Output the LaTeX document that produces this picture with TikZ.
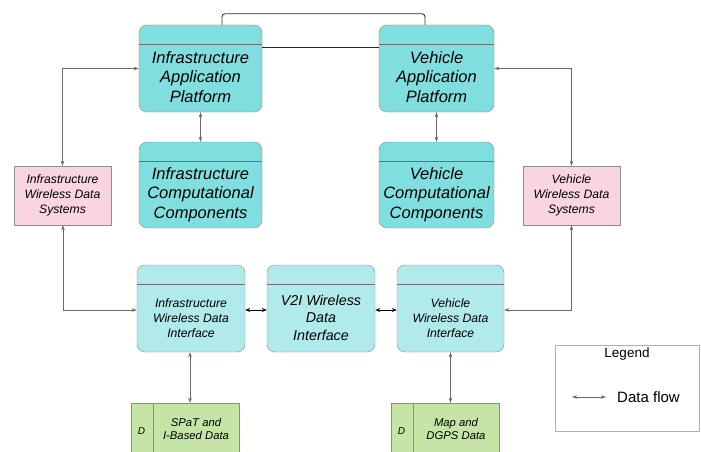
\documentclass[tikz,border=0pt]{standalone}
\usepackage{fontspec}
\setmainfont{Liberation Sans}
\usetikzlibrary{arrows.meta, positioning, calc}

\definecolor{appcyan}{RGB}{128,223,222}
\definecolor{ifcyan}{RGB}{176,234,234}
\definecolor{syspink}{RGB}{249,213,223}
\definecolor{storegreen}{RGB}{197,229,166}
\definecolor{edgegray}{RGB}{140,140,140}
\definecolor{hdrgray}{RGB}{110,110,110}
\definecolor{flowgray}{RGB}{105,105,105}

\begin{document}
\begin{tikzpicture}[x=1pt, y=-1pt,
    appbox/.style={draw=edgegray, fill=appcyan, rounded corners=8pt, minimum width=123pt, minimum height=87pt,
        path picture={\draw[hdrgray, line width=0.7pt] ([yshift=-19pt]path picture bounding box.north west) -- ([yshift=-19pt]path picture bounding box.north east);}},
    ifbox/.style={appbox, fill=ifcyan, minimum width=108pt},
    sysbox/.style={draw=edgegray, fill=syspink, minimum width=97pt, minimum height=59pt},
    storebox/.style={draw=edgegray, fill=storegreen, minimum width=108pt, minimum height=57pt,
        path picture={\draw[edgegray] ([xshift=22pt]path picture bounding box.north west) -- ([xshift=22pt]path picture bounding box.south west);}},
    bigtxt/.style={align=center, font=\fontsize{16.5}{19.5}\selectfont\itshape},
    smalltxt/.style={align=center, font=\fontsize{12.2}{15}\selectfont\itshape},
    flow/.style={{Stealth[length=5pt,width=3.5pt]}-{Stealth[length=5pt,width=3.5pt]}, flowgray, line width=0.9pt},
    link/.style={{Stealth[length=5pt,width=4pt]}-{Stealth[length=5pt,width=4pt]}, black, line width=1pt}
]
    \useasboundingbox (0,0) rectangle (701,452);

    % Platforms
    \node[appbox, minimum width=115pt] (vap) at (436.5,68.5) {};
    \node[appbox] (iap) at (200.5,68.5) {};
    \node[bigtxt] (iaptxt) at ($(iap.center)+(0,8.5)$) {Infrastructure\\Application\\Platform};
    \node[bigtxt] (vaptxt) at ($(vap.center)+(0,8.5)$) {Vehicle\\Application\\Platform};

    % Computational components
    \node[appbox, minimum height=86pt] (icc) at (200.5,185) {};
    \node[appbox, minimum width=115pt, minimum height=86pt] (vcc) at (436.5,185) {};
    \node[bigtxt] (icctxt) at ($(icc.center)+(0,9.5)$) {Infrastructure\\Computational\\Components};
    \node[bigtxt] (vcctxt) at ($(vcc.center)+(0,9.5)$) {Vehicle\\Computational\\Components};

    % Wireless data systems
    \node[sysbox, smalltxt] (iws) at (62.5,195.5) {Infrastructure\\Wireless Data\\Systems};
    \node[sysbox, smalltxt] (vws) at (571.5,195.5) {Vehicle\\Wireless Data\\Systems};

    % Interfaces
    \node[ifbox] (iwi) at (191,308.5) {};
    \node[ifbox] (v2i) at (321,308.5) {};
    \node[ifbox, minimum width=107pt] (vwi) at (450.5,308.5) {};
    \node[smalltxt] (iwitxt) at ($(iwi.center)+(0,9.5)$) {Infrastructure\\Wireless Data\\Interface};
    \node[bigtxt, font=\fontsize{14.3}{17.5}\selectfont\itshape] (v2itxt) at ($(v2i.center)+(0,9)$) {V2I Wireless\\Data\\Interface};
    \node[smalltxt] (vwitxt) at ($(vwi.center)+(0,9.5)$) {Vehicle\\Wireless Data\\Interface};

    % Data stores
    \node[storebox] (sbd) at (185,431.5) {};
    \node[storebox] (mdd) at (445,431.5) {};
    \node[font=\fontsize{10}{12}\selectfont\itshape] (sbdd) at (141.5,431) {D};
    \node[font=\fontsize{10}{12}\selectfont\itshape] (mddd) at (401.5,431) {D};
    \node[smalltxt, font=\fontsize{11.3}{13.5}\selectfont\itshape] (sbdtxt) at (196,429) {SPaT and\\I-Based Data};
    \node[smalltxt, font=\fontsize{11.3}{13.5}\selectfont\itshape] (mddtxt) at (456,429) {Map and\\DGPS Data};

    % Platform links
    \draw[black!80, line width=0.9pt, rounded corners=3pt] ($(iap.north)+(21.5,0)$) -- ++(0,-11) -| ($(vap.north)+(-11.5,0)$);
    \draw[black!85, line width=0.9pt] ($(iap.north east)+(0,23)$) -- ($(vap.north west)+(0,23)$);

    % Data flows
    \draw[flow] (iap.south) -- (icc.north);
    \draw[flow] (vap.south) -- (vcc.north);
    \draw[flow] (iws.north) |- (iap.west);
    \draw[flow] (vws.north) |- (vap.east);
    \draw[flow] ([xshift=0.5pt]iws.south) |- ([yshift=-1.5pt]iwi.west);
    \draw[flow] (vws.south) |- ([yshift=-1.5pt]vwi.east);
    \draw[link] ([yshift=-1.5pt]iwi.east) -- ([yshift=-1.5pt]v2i.west);
    \draw[link] ([yshift=-1.5pt]v2i.east) -- ([yshift=-1.5pt]vwi.west);
    \draw[flow] ([xshift=-1pt]iwi.south) -- ([xshift=-1pt]iwi.south |- sbd.north);
    \draw[flow] (vwi.south) -- (vwi.south |- mdd.north);

    % Legend
    \node[draw=edgegray!70, minimum width=144pt, minimum height=86pt] (legend) at (627,388) {};
    \node[font=\fontsize{13.5}{16}\selectfont] (legtitle) at (627,354) {Legend};
    \coordinate (legA) at (572,397);
    \coordinate (legB) at (606,397);
    \draw[flow, line width=0.7pt] (legA) -- (legB);
    \node[font=\fontsize{15}{18}\selectfont] (legtxt) at (648.5,397) {Data flow};
\end{tikzpicture}
\end{document}
